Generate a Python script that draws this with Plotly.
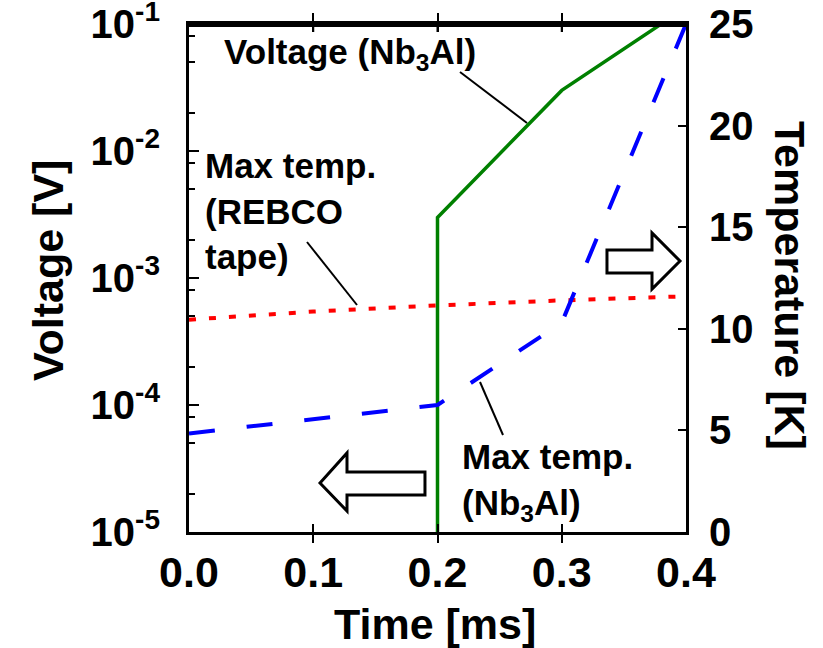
import plotly.graph_objects as go

# Quench simulation: coil voltage (log, left) and hot-spot temperatures (right)
time_voltage = [0.2, 0.2, 0.3, 0.38, 0.4]                 # ms
voltage_nb3al = [1e-6, 3.0e-3, 3.0e-2, 1.0e-1, 1.35e-1]    # V

time_temp = [0.0, 0.1, 0.2, 0.3, 0.4]                     # ms
temp_rebco = [10.45, 10.85, 11.15, 11.4, 11.6]            # K
temp_nb3al = [4.85, 5.55, 6.25, 10.3, 25.0]               # K

x_ticks = [0.0, 0.1, 0.2, 0.3, 0.4]
v_ticks = [1e-5, 1e-4, 1e-3, 1e-2, 1e-1]
v_tick_text = ["10<sup>-5</sup>", "10<sup>-4</sup>", "10<sup>-3</sup>",
               "10<sup>-2</sup>", "10<sup>-1</sup>"]
v_minor = [m * d for d in v_ticks[:-1] for m in (2, 5, 8)]
t_ticks = [0, 5, 10, 15, 20, 25]

FONT = "Liberation Sans, Arial, sans-serif"

# frame of the plotting area in pixels (used to place decorations)
L, R, T, B = 189, 686, 24, 532
W, H = 823, 648


def px(x, y):
    return (x - L) / (R - L), (B - y) / (B - T)


fig = go.Figure()

fig.add_trace(go.Scatter(
    x=time_voltage, y=voltage_nb3al, mode="lines",
    line=dict(color="rgb(0,128,0)", width=3.5), yaxis="y", showlegend=False))
fig.add_trace(go.Scatter(
    x=time_temp, y=temp_rebco, mode="lines",
    line=dict(color="rgb(255,0,0)", width=4, dash="7px,13px"),
    yaxis="y2", showlegend=False))
fig.add_trace(go.Scatter(
    x=time_temp, y=temp_nb3al, mode="lines",
    line=dict(color="rgb(0,0,255)", width=4, dash="26px,32px"),
    yaxis="y2", showlegend=False))

# top edge of the frame with its inward ticks, drawn along the upper limit
t_top = t_ticks[-1]
tick_depth = 8 * (t_ticks[-1] - t_ticks[0]) / (B - T)
edge_x = [x_ticks[0], x_ticks[-1]]
edge_y = [t_top, t_top]
fig.add_trace(go.Scatter(
    x=edge_x, y=edge_y, mode="lines", line=dict(color="black", width=6),
    yaxis="y2", showlegend=False, hoverinfo="skip"))
tick_x, tick_y = [], []
for xv in x_ticks[1:-1]:
    tick_x += [xv, xv, None]
    tick_y += [t_top, t_top - tick_depth, None]
fig.add_trace(go.Scatter(
    x=tick_x, y=tick_y, mode="lines", line=dict(color="black", width=2),
    yaxis="y2", showlegend=False, hoverinfo="skip"))

axis_common = dict(showgrid=False, zeroline=False, showline=True,
                   linecolor="black", linewidth=3, ticks="inside",
                   tickcolor="black", tickwidth=2, automargin=False,
                   ticklabeloverflow="allow")

fig.update_layout(
    width=W, height=H,
    margin=dict(l=L, r=W - R, t=T, b=H - B, autoexpand=False),
    plot_bgcolor="white", paper_bgcolor="white",
    font=dict(family=FONT, color="black"),
    xaxis=dict(range=[0, 0.4], tickvals=x_ticks,
               ticktext=[f"{v:.1f}" for v in x_ticks],
               mirror="allticks", ticklen=8, ticklabelstandoff=0,
               tickfont=dict(family=FONT, size=43, weight="bold"),
               **axis_common),
    yaxis=dict(type="log", range=[-5, -1], tickvals=v_ticks,
               ticktext=v_tick_text, ticklen=10, ticklabelstandoff=18,
               tickfont=dict(family=FONT, size=40, weight="bold"),
               minor=dict(tickvals=v_minor, ticks="inside", ticklen=6,
                          tickcolor="black", tickwidth=2),
               **axis_common),
    yaxis2=dict(range=[0, 25], tickvals=t_ticks, overlaying="y",
                side="right", ticklen=8, ticklabelstandoff=12,
                tickfont=dict(family=FONT, size=40, weight="bold"),
                **axis_common),
)

# axis titles
titles = [
    ("Voltage [V]", 48, 271, -90),
    ("Temperature [K]", 790, 285, 90),
    ("Time [ms]", 435, 624, 0),
]
for text, cx, cy, ang in titles:
    xp, yp = px(cx, cy)
    fig.add_annotation(x=xp, y=yp, xref="paper", yref="paper", text=text,
                       showarrow=False, textangle=ang, xanchor="center",
                       yanchor="middle",
                       font=dict(family=FONT, size=43, weight="bold"))

# curve labels
labels = [
    ("Voltage (Nb<sub>3</sub>Al)", 222, 54),
    ("Max temp.<br>(REBCO<br>tape)", 203, 211),
    ("Max temp.<br>(Nb<sub>3</sub>Al)", 460, 482),
]
for text, lx, cy in labels:
    xp, yp = px(lx, cy)
    fig.add_annotation(x=xp, y=yp, xref="paper", yref="paper", text=text,
                       showarrow=False, xanchor="left", yanchor="middle",
                       align="left",
                       font=dict(family=FONT, size=35, weight="bold"))

# leader lines from labels to curves
leaders = [((460, 72), (527, 123)),
           ((307, 242), (357, 305)),
           ((480, 382), (503, 435))]
for (x0, y0), (x1, y1) in leaders:
    a, b = px(x0, y0)
    c, d = px(x1, y1)
    fig.add_shape(type="line", xref="paper", yref="paper",
                  x0=a, y0=b, x1=c, y1=d, line=dict(color="black", width=2))

# hollow arrows pointing to the relevant axis
arrows = [
    [(320, 483), (347, 453), (347, 472), (425, 472), (425, 495), (347, 495), (347, 511)],
    [(607, 250), (652, 250), (652, 233), (680, 261), (652, 289), (652, 273), (607, 273)],
]
for poly in arrows:
    pts = [px(x, y) for x, y in poly]
    path = "M " + " L ".join(f"{a:.4f},{b:.4f}" for a, b in pts) + " Z"
    fig.add_shape(type="path", xref="paper", yref="paper", path=path,
                  fillcolor="white", line=dict(color="black", width=3))

fig.write_html("out.html")
